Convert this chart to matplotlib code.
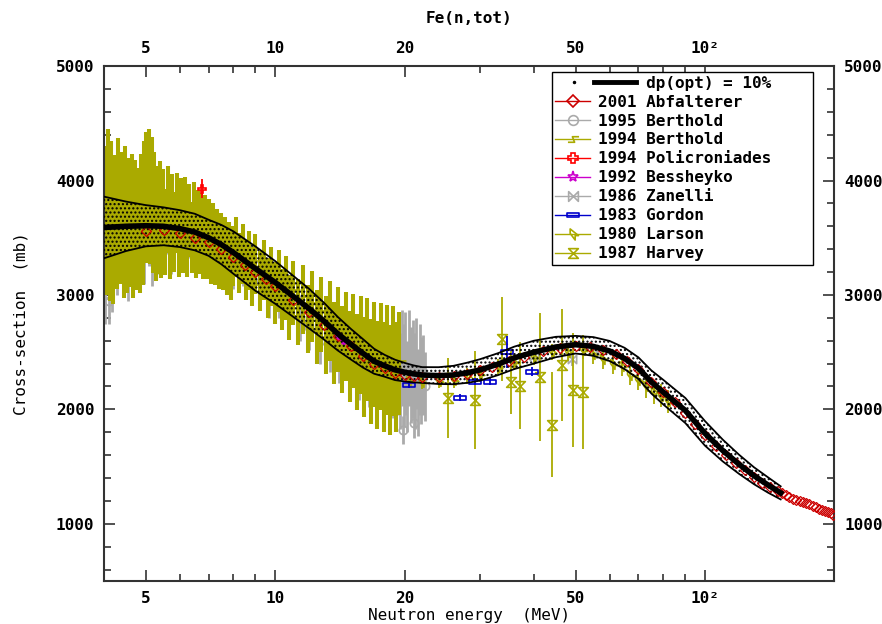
import matplotlib
matplotlib.use("Agg")
import matplotlib.pyplot as plt
from matplotlib.path import Path
from matplotlib.lines import Line2D

plt.rcParams['font.family'] = ['DejaVu Sans Mono']
plt.rcParams['font.weight'] = 'bold'
plt.rcParams['font.size'] = 11.5
plt.rcParams['hatch.linewidth'] = 1.0

OLIVE = '#aaaa00'
GRAY = '#aaaaaa'

# evaluation dp(opt) = 10%
ev_e = [4.0, 4.5, 5.0, 5.5, 6.0, 6.5, 7.0, 7.5, 8.0, 9.0, 10, 11, 12, 13, 14, 15, 16, 17, 18, 19,
        20, 21, 22, 24, 26, 28, 30, 33, 36, 40, 45, 50, 55, 60, 65, 70, 75, 80, 90, 100,
        110, 120, 130, 140, 150]
ev_y = [3590, 3600, 3605, 3600, 3580, 3550, 3500, 3440, 3370, 3230, 3110, 2990, 2880, 2770, 2660,
        2570, 2490, 2420, 2380, 2345, 2325, 2310, 2300, 2295, 2300, 2320, 2345, 2395, 2450, 2500,
        2545, 2565, 2550, 2510, 2445, 2360, 2240, 2150, 1990, 1790, 1640, 1520, 1420, 1340, 1270]
ev_rel = [7.5, 6.0, 5.0, 4.6, 4.5, 4.5, 4.5, 5.0, 5.5, 6.0, 6.0, 6.0, 6.0, 5.8, 5.5, 5.2, 5.0, 4.5, 4.0, 3.8,
          3.5, 3.2, 3.0, 3.2, 3.5, 3.8, 4.0, 4.0, 4.0, 4.0, 3.5, 3.0, 3.2, 3.5, 3.8, 4.0, 4.5, 5.0, 5.5, 6.0,
          5.8, 5.5, 5.2, 5.0, 4.5]

# 1994 Berthold
b94_e = [4.00, 4.04, 4.08, 4.12, 4.16, 4.20, 4.24, 4.28, 4.32, 4.36, 4.40, 4.44, 4.48, 4.52, 4.56,
         4.60, 4.64, 4.68, 4.72, 4.76, 4.80, 4.84, 4.88, 4.92, 4.96, 5.00, 5.04, 5.08, 5.12, 5.16,
         5.20, 5.24, 5.28, 5.32, 5.36, 5.40, 5.44, 5.48,
         5.55, 5.62, 5.69, 5.76, 5.83, 5.90, 5.97, 6.04, 6.11, 6.18, 6.25, 6.32, 6.39, 6.46, 6.53,
         6.60, 6.67, 6.74, 6.81, 6.88, 6.95, 7.02, 7.10, 7.18, 7.26, 7.34, 7.42, 7.50, 7.58, 7.66,
         7.74, 7.82, 7.90, 7.98,
         8.10, 8.25, 8.40, 8.55, 8.70, 8.85, 9.00, 9.20, 9.40, 9.60, 9.80, 10.0, 10.2, 10.4, 10.6,
         10.8, 11.0, 11.3, 11.6, 11.9, 12.2, 12.5, 12.8, 13.1, 13.4, 13.7, 14.0, 14.3, 14.6, 14.9,
         15.2, 15.5, 15.8, 16.1, 16.4, 16.7, 17.0, 17.3, 17.6, 17.9, 18.2, 18.5, 18.8, 19.1, 19.4]
b94_y = [3750, 3500, 3900, 3450, 3800, 3400, 3700, 3550, 3850, 3600, 3750, 3450, 3800, 3500, 3700,
         3550, 3750, 3450, 3700, 3500, 3650, 3480, 3750, 3550, 3850, 3900, 3800, 3950, 3750, 3900,
         3650, 3800, 3550, 3700, 3600, 3750, 3550, 3700,
         3550, 3750, 3500, 3700, 3550, 3720, 3500, 3680, 3520, 3700, 3480, 3650, 3500, 3680, 3450,
         3620, 3480, 3600, 3430, 3580, 3420, 3560, 3380, 3520, 3360, 3480, 3320, 3450, 3300, 3420,
         3260, 3380, 3220, 3340,
         3420, 3280, 3360, 3220, 3300, 3160, 3270, 3120, 3220, 3060, 3160, 3020, 3120, 2960, 3060,
         2890, 3020, 2850, 2960, 2790, 2900, 2720, 2830, 2650, 2770, 2580, 2700, 2520, 2640, 2460,
         2600, 2410, 2560, 2370, 2520, 2330, 2480, 2300, 2460, 2280, 2430, 2260, 2420, 2280, 2400]
b94_d = [550, 500, 550, 500, 550, 480, 520, 500, 520, 500, 500, 480, 500, 480, 500,
         480, 480, 480, 480, 460, 460, 460, 480, 460, 500, 520, 520, 500, 480, 480,
         460, 450, 430, 430, 420, 420, 400, 400,
         380, 380, 360, 360, 350, 350, 340, 340, 330, 330, 320, 320, 310, 310, 300,
         300, 300, 290, 290, 290, 280, 280, 280, 280, 270, 270, 270, 270, 260, 260,
         260, 260, 260, 260,
         260, 260, 260, 260, 260, 260, 260, 260, 260, 260, 260, 270, 270, 270, 280,
         280, 280, 290, 300, 300, 310, 320, 330, 340, 350, 360, 370, 380, 390, 400,
         410, 420, 430, 440, 450, 460, 460, 470, 470, 480, 480, 480, 480, 480, 450]

# 1995 Berthold
b95_e = [4.02, 4.06, 4.10, 4.14, 4.18, 4.23, 4.28, 4.33, 4.38, 4.43, 4.49, 4.55, 4.61, 4.67, 4.74,
         4.81, 4.88, 4.95, 5.02, 5.10, 5.18, 5.26, 5.35, 5.44, 5.53, 5.62, 5.72, 5.83, 5.94, 6.06,
         6.2, 6.35, 6.5, 6.7, 6.9, 7.1, 7.4, 7.7, 8.0, 8.4, 8.8, 9.2, 9.7, 10.2, 10.8, 11.4, 12.0,
         12.7, 13.4, 14.1, 14.9, 15.7, 16.5, 17.3, 18.1, 18.8,
         19.3, 19.5, 19.7, 19.8, 19.9, 20.1, 20.3, 20.5, 20.7, 20.9, 21.0, 21.1, 21.3, 21.5, 21.7,
         21.9, 22.1, 22.3]
b95_y = [3000, 3600, 2950, 3500, 3100, 3700, 3250, 3800, 3400, 3300, 3650, 3200, 3550, 3250, 3700,
         3300, 3600, 3350, 3850, 3500, 3300, 3700, 3400, 3600, 3450, 3650, 3380, 3550, 3420, 3600,
         3450, 3520, 3380, 3550, 3420, 3500, 3350, 3420, 3250, 3280, 3150, 3150, 3000, 3000, 2850,
         2800, 2720, 2600, 2530, 2450, 2380, 2300, 2250, 2200, 2250, 2200,
         2350, 2250, 2450, 1820, 2300, 2400, 2200, 2450, 2300, 2350, 1880, 2250, 2400, 2150, 2350,
         2250, 2300, 2200]
b95_d = [250, 300, 200, 300, 250, 300, 250, 300, 250, 250, 250, 250, 250, 250, 250,
         250, 250, 250, 250, 250, 220, 250, 220, 220, 220, 220, 200, 200, 200, 200,
         200, 200, 200, 200, 200, 200, 200, 200, 200, 200, 200, 200, 200, 200, 200,
         200, 200, 200, 200, 220, 220, 220, 230, 240, 250, 280,
         400, 420, 420, 120, 450, 450, 400, 420, 420, 430, 130, 420, 400, 380, 400,
         380, 350, 300]

# 2001 Abfalterer
abf_e = [5.0, 5.5, 6.0, 6.5, 7.0, 7.5, 8.0, 8.5, 9.0, 9.5, 10, 11, 12, 13, 14, 15, 16, 17, 18, 19,
         20, 21, 22, 24, 26, 28, 30, 32, 35, 38, 42, 46, 50, 54, 58, 62, 66, 70, 75, 80, 85, 90, 95,
         100, 106, 112, 118, 124, 130, 136, 142, 148, 151, 154, 157, 160, 163, 166, 169, 172, 175,
         178, 181, 184, 187, 190, 193, 196, 199]
abf_y = [3560, 3570, 3540, 3500, 3460, 3400, 3330, 3260, 3200, 3140, 3080, 2960, 2850, 2740, 2640,
         2550, 2470, 2400, 2360, 2320, 2300, 2290, 2280, 2280, 2290, 2310, 2340, 2370, 2420, 2460,
         2510, 2540, 2555, 2545, 2520, 2480, 2420, 2350, 2240, 2150, 2060, 1970, 1870, 1780, 1680,
         1600, 1530, 1470, 1410, 1360, 1320, 1285, 1265, 1250, 1235, 1220, 1210, 1200, 1190, 1180,
         1170, 1155, 1145, 1130, 1120, 1110, 1100, 1090, 1080]

# 1994 Policroniades
pol_e = [6.76]
pol_y = [3930]
pol_d = [80]

# 1992 Bessheyko
bes_e = [14.1, 14.5]
bes_y = [2640, 2600]
bes_d = [40, 40]

# 1986 Zanelli
zan_e = [40.0, 49.0, 56.0]
zan_y = [2470, 2440, 2500]
zan_d = [60, 60, 60]

# 1983 Gordon
gor_e = [20.5, 26.9, 29.1, 31.6, 34.6, 39.6]
gor_y = [2215, 2100, 2240, 2240, 2500, 2330]
gor_d = [30, 30, 30, 30, 140, 40]

# 1980 Larson
lar_e = [20.5, 22, 24, 26, 28, 30, 33, 36, 40, 44, 48, 52, 55, 58, 61, 64, 67, 70, 73, 76, 79, 82]
lar_y = [2250, 2240, 2250, 2260, 2290, 2310, 2370, 2410, 2460, 2500, 2500, 2520, 2480, 2440,
         2400, 2380, 2300, 2260, 2200, 2150, 2120, 2070]
lar_d = [60, 60, 60, 70, 70, 70, 70, 70, 70, 70, 80, 80, 80, 90, 90, 90, 90, 90, 100, 100, 100, 100]

# 1987 Harvey
har_e = [25.2, 29.1, 33.7, 35.4, 37.1, 41.4, 44.0, 46.5, 49.4, 52.0]
har_y = [2100, 2083, 2616, 2240, 2205, 2280, 1865, 2390, 2170, 2150]
har_d = [350, 430, 370, 280, 380, 560, 460, 490, 500, 500]

# marker shapes
zig = Path([(-1, -0.5), (0.2, -0.5), (-0.2, 0.5), (1, 0.5)])
hourglass = Path([(-1, 1), (1, 1), (-1, -1), (1, -1), (-1, 1)], closed=True)
bowtie = Path([(-1, 1), (1, -1), (1, 1), (-1, -1), (-1, 1)], closed=True)
rect = Path([(-1, -0.4), (1, -0.4), (1, 0.4), (-1, 0.4), (-1, -0.4)], closed=True)
flag = Path([(-0.6, 1), (0.9, -0.2), (0.3, -0.2), (0.3, -1), (-0.6, 0.2), (-0.6, 1)], closed=True)

fig = plt.figure(figsize=(8.82, 6.24), dpi=100)
ax = fig.add_axes([0.118, 0.069, 0.828, 0.825])


def eb(e, y, d, marker, color, ms=6, lw=1.3, z=2):
    ax.errorbar(e, y, yerr=d, fmt='none', ecolor=color, elinewidth=lw, capsize=0, zorder=z)
    ax.plot(e, y, ls='none', marker=marker, ms=ms, mec=color, mfc='none', mew=1.2, zorder=z)


eb(b95_e, b95_y, b95_d, 'o', GRAY, ms=6, lw=2.0)
eb(b94_e, b94_y, b94_d, zig, OLIVE, ms=10, lw=2.9)
eb(zan_e, zan_y, zan_d, bowtie, GRAY)
eb(lar_e, lar_y, lar_d, flag, OLIVE, ms=7)
eb(har_e, har_y, har_d, hourglass, OLIVE, ms=7)
eb(gor_e, gor_y, gor_d, rect, '#0000cc', ms=8)
eb(pol_e, pol_y, pol_d, 'P', '#ff0000', ms=6)
eb(bes_e, bes_y, bes_d, '*', '#cc00cc', ms=6)

lo = [v * (1 - r / 100) for v, r in zip(ev_y, ev_rel)]
hi = [v * (1 + r / 100) for v, r in zip(ev_y, ev_rel)]
ax.fill_between(ev_e, lo, hi, facecolor='none', edgecolor='black', hatch='....', lw=0, zorder=3)
ax.plot(ev_e, lo, color='black', lw=1.3, zorder=4)
ax.plot(ev_e, hi, color='black', lw=1.3, zorder=4)
ax.plot(abf_e, abf_y, ls='none', marker='D', ms=5, mec='#cc0000', mfc='none', mew=0.9, zorder=4)
ax.plot(ev_e, ev_y, color='black', lw=4, zorder=5)

ax.set_xscale('log')
ax.set_xlim(4, 200)
ax.set_ylim(500, 5000)
ax.set_xticks([5, 10, 20, 50, 100])
ax.set_xticklabels(['5', '10', '20', '50', '10²'])
ax.set_xticks([6, 7, 8, 9, 30, 40, 60, 70, 80, 90], minor=True)
ax.xaxis.set_minor_formatter(matplotlib.ticker.NullFormatter())
ax.set_yticks([1000, 2000, 3000, 4000, 5000])
ax.set_yticks([v for v in range(600, 5000, 200) if v % 1000 != 0], minor=True)
ax.tick_params(which='both', direction='in', top=True, right=True, labeltop=True,
               labelright=True, width=1.2, colors='#333333', labelcolor='black')
ax.tick_params(which='major', length=8, pad=7)
ax.tick_params(which='minor', length=5)
for s in ax.spines.values():
    s.set_linewidth(1.5)
    s.set_color('#333333')

ax.set_title('Fe(n,tot)', pad=13, fontweight='bold', fontsize=11.5)
ax.set_xlabel('Neutron energy  (MeV)', labelpad=2)
ax.set_ylabel('Cross-section  (mb)', labelpad=20)


class DpHandler:
    def legend_artist(self, legend, orig_handle, fontsize, handlebox):
        x0, y0 = handlebox.xdescent, handlebox.ydescent
        w, h = handlebox.width, handlebox.height
        dot = Line2D([x0 + 0.55 * w], [y0 + h / 2], marker='.', color='k', ms=3, ls='none')
        bar = Line2D([x0 + 1.1 * w, x0 + 2.3 * w], [y0 + h / 2] * 2, color='k', lw=3.5)
        handlebox.add_artist(dot)
        handlebox.add_artist(bar)
        return bar


def lh(marker, color, ms=7):
    return Line2D([], [], color=color, lw=1, marker=marker, ms=ms, mfc='none', mec=color, mew=1.2)


dp = Line2D([], [])
handles = [dp, lh('D', '#cc0000', 6), lh('o', GRAY), lh(zig, OLIVE, 8), lh('P', '#ff0000'),
           lh('*', '#cc00cc', 8), lh(bowtie, GRAY), lh(rect, '#0000cc', 8), lh(flag, OLIVE, 8),
           lh(hourglass, OLIVE)]
labels = ['     dp(opt) = 10%', '2001 Abfalterer', '1995 Berthold', '1994 Berthold',
          '1994 Policroniades    ', '1992 Bessheyko', '1986 Zanelli', '1983 Gordon', '1980 Larson',
          '1987 Harvey']
leg = ax.legend(handles, labels, handler_map={dp: DpHandler()}, loc='upper right',
                bbox_to_anchor=(0.971, 0.988), borderaxespad=0, handlelength=2.2,
                handletextpad=0.5, labelspacing=0.25, borderpad=0.2, fancybox=False,
                framealpha=1, edgecolor='black')
leg.get_frame().set_linewidth(1.0)
leg.set_zorder(10)

plt.savefig('out.png', dpi=100)
